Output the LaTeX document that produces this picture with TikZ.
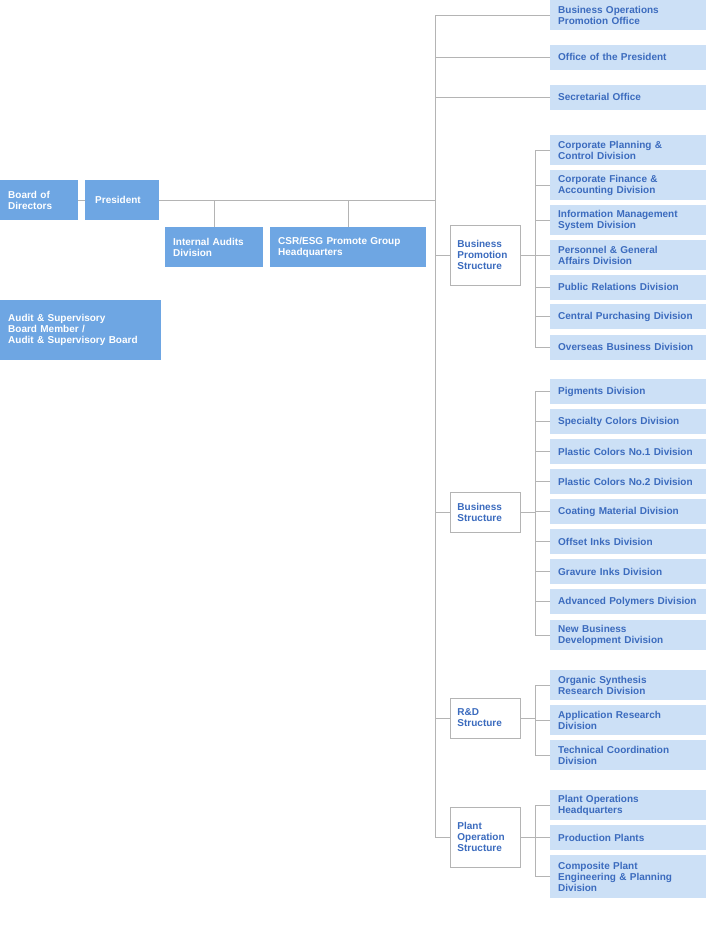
\documentclass[tikz,border=0pt]{standalone}
\usepackage{fontspec}
\setmainfont{Liberation Sans}
\begin{document}
\begin{tikzpicture}[x=1pt,y=-1pt,
  font=\fontsize{10}{11}\selectfont\bfseries,
  dk/.style={fill=darkbox,text=white,inner sep=0pt,text width=#1,align=left,anchor=west},
  lb/.style={fill=lightbox,text=bluetext,inner sep=0pt,minimum width=155pt,text width=140pt,align=left,anchor=west,inner xsep=8pt},
  st/.style={draw=linegray,fill=white,text=bluetext,line width=0.9pt,minimum width=70pt,text width=56pt,inner xsep=7pt,align=left,anchor=west},
  ln/.style={draw=linegray,line width=1pt}]
\definecolor{darkbox}{HTML}{6EA6E3}
\definecolor{lightbox}{HTML}{CCE0F6}
\definecolor{bluetext}{HTML}{3B6BBE}
\definecolor{linegray}{HTML}{B4B4B4}
\useasboundingbox (0,0) rectangle (705,940);
% left
\node[dk=62pt,minimum width=70pt,minimum height=40pt,inner xsep=8pt] (bod) at (0,200) {Board of\\Directors};
\node[dk=54pt,minimum width=70pt,minimum height=40pt,inner xsep=10pt] (pres) at (85,200) {President};
\node[dk=82pt,minimum width=90pt,minimum height=40pt,inner xsep=8pt] (ia) at (165,247) {Internal Audits\\Division};
\node[dk=140pt,minimum width=150pt,minimum height=40pt,inner xsep=8pt] (csr) at (270,247) {CSR/ESG Promote Group\\Headquarters};
\node[dk=145pt,minimum width=155pt,minimum height=60pt,inner xsep=8pt] (asb) at (0,330) {Audit \& Supervisory\\Board Member /\\Audit \& Supervisory Board};
\coordinate (ttop) at (435,15);
\coordinate (tbot) at (435,837);
\coordinate (tmid) at (435,200);
\draw[ln] (bod) -- (pres);
\draw[ln] (pres.east) -- (tmid);
\draw[ln] (ttop) -- (tbot);
\draw[ln] (ia.north) -- (ia.north |- tmid);
\draw[ln] (csr.north) -- (csr.north |- tmid);
% top boxes
\node[lb,minimum height=30pt] (bop) at (550,15) {Business Operations\\Promotion Office};
\node[lb,minimum height=25pt] (oop) at (550,57) {Office of the President};
\node[lb,minimum height=25pt] (sec) at (550,97) {Secretarial Office};
\foreach \n in {bop,oop,sec} \draw[ln] (\n.west -| ttop) -- (\n.west);
% structures
\node[st,minimum height=60pt] (bps) at (450,255) {Business\\Promotion\\Structure};
\node[st,minimum height=40pt] (bs) at (450,512) {Business\\Structure};
\node[st,minimum height=40pt] (rd) at (450,718) {R\&D\\Structure};
\node[st,minimum height=60pt] (ps) at (450,837) {Plant\\Operation\\Structure};
\foreach \n in {bps,bs,rd,ps} \draw[ln] (\n.west -| ttop) -- (\n.west);
% BPS subs
\node[lb,minimum height=30pt] (a1) at (550,150) {Corporate Planning \&\\Control Division};
\node[lb,minimum height=30pt] (a2) at (550,185) {Corporate Finance \&\\Accounting Division};
\node[lb,minimum height=30pt] (a3) at (550,220) {Information Management\\System Division};
\node[lb,minimum height=30pt] (a4) at (550,255) {Personnel \& General\\Affairs Division};
\node[lb,minimum height=25pt] (a5) at (550,287) {Public Relations Division};
\node[lb,minimum height=25pt] (a6) at (550,316.5) {Central Purchasing Division};
\node[lb,minimum height=25pt] (a7) at (550,347) {Overseas Business Division};
\coordinate (va) at (535,0);
\draw[ln] (a1.west -| va) -- (a7.west -| va);
\draw[ln] (bps.east) -- (bps.east -| va);
\foreach \n in {a1,a2,a3,a4,a5,a6,a7} \draw[ln] (\n.west -| va) -- (\n.west);
% BS subs
\node[lb,minimum height=25pt] (b1) at (550,391.5) {Pigments Division};
\node[lb,minimum height=25pt] (b2) at (550,421.5) {Specialty Colors Division};
\node[lb,minimum height=25pt] (b3) at (550,451.5) {Plastic Colors No.1 Division};
\node[lb,minimum height=25pt] (b4) at (550,481.5) {Plastic Colors No.2 Division};
\node[lb,minimum height=25pt] (b5) at (550,511.5) {Coating Material Division};
\node[lb,minimum height=25pt] (b6) at (550,541.5) {Offset Inks Division};
\node[lb,minimum height=25pt] (b7) at (550,571.5) {Gravure Inks Division};
\node[lb,minimum height=25pt] (b8) at (550,601.5) {Advanced Polymers Division};
\node[lb,minimum height=30pt] (b9) at (550,635) {New Business\\Development Division};
\draw[ln] (b1.west -| va) -- (b9.west -| va);
\draw[ln] (bs.east) -- (bs.east -| va);
\foreach \n in {b1,b2,b3,b4,b5,b6,b7,b8,b9} \draw[ln] (\n.west -| va) -- (\n.west);
% RD subs
\node[lb,minimum height=30pt] (c1) at (550,685) {Organic Synthesis\\Research Division};
\node[lb,minimum height=30pt] (c2) at (550,720) {Application Research\\Division};
\node[lb,minimum height=30pt] (c3) at (550,755) {Technical Coordination\\Division};
\draw[ln] (c1.west -| va) -- (c3.west -| va);
\draw[ln] (rd.east) -- (rd.east -| va);
\foreach \n in {c1,c2,c3} \draw[ln] (\n.west -| va) -- (\n.west);
% PS subs
\node[lb,minimum height=30pt] (d1) at (550,805) {Plant Operations\\Headquarters};
\node[lb,minimum height=25pt] (d2) at (550,837.5) {Production Plants};
\node[lb,minimum height=43pt] (d3) at (550,876.5) {Composite Plant\\Engineering \& Planning\\Division};
\draw[ln] (d1.west -| va) -- (d3.west -| va);
\draw[ln] (ps.east) -- (ps.east -| va);
\foreach \n in {d1,d2,d3} \draw[ln] (\n.west -| va) -- (\n.west);
\end{tikzpicture}
\end{document}
